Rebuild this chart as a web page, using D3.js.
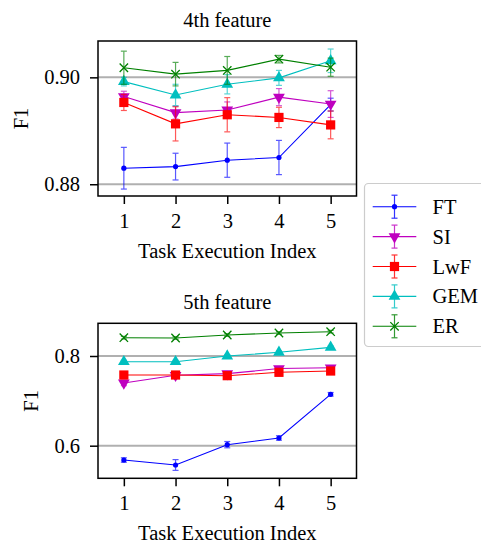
<!DOCTYPE html>
<html><head><meta charset="utf-8">
<script src="https://cdn.jsdelivr.net/npm/d3@7"></script>
<style>body{margin:0;background:#fff;} text{font-family:"Liberation Serif","Times New Roman",Times,serif;}</style>
</head><body><svg id="c" width="481" height="543"></svg>
<script>
const tasks = [1, 2, 3, 4, 5];
const seriesNames = ["FT", "SI", "LwF", "GEM", "ER"];
const panelTitles = ["4th feature", "5th feature"];
const xLabel = "Task Execution Index";
const yLabel = "F1";
const ticks4 = [0.88, 0.90];
const ticks5 = [0.6, 0.8];

// 4th feature
const f4_FT  = [0.8830, 0.8833, 0.8845, 0.8850, 0.8949];
const f4_SI  = [0.8964, 0.8934, 0.8939, 0.8963, 0.8950];
const f4_LwF = [0.8953, 0.8913, 0.8930, 0.8925, 0.8911];
const f4_GEM = [0.8992, 0.8967, 0.8987, 0.8999, 0.9031];
const f4_ER  = [0.9018, 0.9006, 0.9013, 0.9034, 0.9019];
const e4_FT  = [0.0039, 0.0025, 0.0032, 0.0032, 0.0012];
const e4_SI  = [0.0010, 0.0012, 0.0015, 0.0016, 0.0025];
const e4_LwF = [0.0015, 0.0032, 0.0032, 0.0019, 0.0026];
const e4_GEM = [0.0008, 0.0020, 0.0018, 0.0014, 0.0022];
const e4_ER  = [0.0031, 0.0022, 0.0026, 0.0007, 0.0017];

// 5th feature
const f5_FT  = [0.5681, 0.5570, 0.6023, 0.6172, 0.7146];
const f5_SI  = [0.7398, 0.7570, 0.7606, 0.7720, 0.7737];
const f5_LwF = [0.7576, 0.7576, 0.7561, 0.7636, 0.7665];
const f5_GEM = [0.7873, 0.7873, 0.8000, 0.8082, 0.8193];
const f5_ER  = [0.8408, 0.8401, 0.8468, 0.8513, 0.8542];
const e5_FT  = [0.0050, 0.0120, 0.0070, 0.0050, 0.0040];
const e5_SI  = [0.0060, 0.0030, 0.0030, 0.0030, 0.0040];
const e5_LwF = [0.0030, 0.0030, 0.0030, 0.0030, 0.0030];
const e5_GEM = [0.0030, 0.0030, 0.0030, 0.0030, 0.0030];
const e5_ER  = [0.0030, 0.0030, 0.0030, 0.0030, 0.0030];

const colors = ["#0000ff", "#bf00bf", "#ff0000", "#00bfbf", "#008000"];
const markers = ["dot", "tri_down", "square", "tri_up", "x"];

const svg = d3.select("#c");
const FS = 20.5;

function drawMarker(g, type, x, y, color) {
  if (type === "dot") {
    g.append("circle").attr("cx", x).attr("cy", y).attr("r", 2.6).attr("fill", color);
  } else if (type === "square") {
    g.append("rect").attr("x", x - 4.6).attr("y", y - 4.6).attr("width", 9.2).attr("height", 9.2).attr("fill", color);
  } else if (type === "tri_down") {
    g.append("path").attr("d", d3.symbol(d3.symbolTriangle, 60)()).attr("transform", `translate(${x},${y}) rotate(180)`).attr("fill", color);
  } else if (type === "tri_up") {
    g.append("path").attr("d", d3.symbol(d3.symbolTriangle, 60)()).attr("transform", `translate(${x},${y})`).attr("fill", color);
  } else if (type === "x") {
    const s = 4.2;
    g.append("path").attr("d", `M${x-s},${y-s}L${x+s},${y+s}M${x-s},${y+s}L${x+s},${y-s}`).attr("stroke", color).attr("stroke-width", 1.3).attr("fill", "none");
  }
}

function panel(cfg) {
  const x = d3.scaleLinear().domain([0.5, 5.5]).range([98, 356.5]);
  const y = d3.scaleLinear().domain(cfg.ydom).range([cfg.bottom, cfg.top]);
  const g = svg.append("g");
  // grid
  g.selectAll("line.grid").data(cfg.ticks).join("line")
    .attr("x1", 98).attr("x2", 356.5)
    .attr("y1", d => y(d)).attr("y2", d => y(d))
    .attr("stroke", "#b0b0b0").attr("stroke-width", 2);
  // series
  const clip = "clip" + cfg.id;
  svg.append("clipPath").attr("id", clip).append("rect")
    .attr("x", 98).attr("y", cfg.top).attr("width", 258.5).attr("height", cfg.bottom - cfg.top);
  const sg = g.append("g").attr("clip-path", `url(#${clip})`);
  cfg.series.forEach((vals, i) => {
    const errs = cfg.errs[i];
    const c = colors[i];
    const s = sg.append("g");
    const eg = s.append("g").attr("stroke", c).attr("stroke-width", 1.2).attr("opacity", 0.65);
    tasks.forEach((t, j) => {
      const xp = x(t), y1 = y(vals[j] + errs[j]), y2 = y(vals[j] - errs[j]);
      eg.append("line").attr("x1", xp).attr("x2", xp).attr("y1", y1).attr("y2", y2);
      eg.append("line").attr("x1", xp - 3).attr("x2", xp + 3).attr("y1", y1).attr("y2", y1);
      eg.append("line").attr("x1", xp - 3).attr("x2", xp + 3).attr("y1", y2).attr("y2", y2);
    });
    s.append("path").datum(tasks.map((t, j) => [t, vals[j]]))
      .attr("d", d3.line().x(d => x(d[0])).y(d => y(d[1])))
      .attr("fill", "none").attr("stroke", c).attr("stroke-width", 1.1);
    tasks.forEach((t, j) => drawMarker(s, markers[i], x(t), y(vals[j]), c));
  });
  // frame
  g.append("rect").attr("x", 98).attr("y", cfg.top).attr("width", 258.5).attr("height", cfg.bottom - cfg.top)
    .attr("fill", "none").attr("stroke", "#000").attr("stroke-width", 1.5);
  // axes
  const ax = g.append("g").attr("transform", `translate(0,${cfg.bottom})`)
    .call(d3.axisBottom(x).tickValues(tasks).tickFormat(d3.format("d")).tickSizeOuter(0).tickSize(8).tickPadding(9));
  const ay = g.append("g").attr("transform", `translate(98,0)`)
    .call(d3.axisLeft(y).tickValues(cfg.ticks).tickFormat(d3.format(cfg.fmt)).tickSizeOuter(0).tickSize(8).tickPadding(10));
  [ax, ay].forEach(a => {
    a.select(".domain").remove();
    a.selectAll("line").attr("stroke", "#000").attr("stroke-width", 1.5);
    a.selectAll("text").attr("font-size", FS).attr("fill", "#000");
  });
  // labels
  g.append("text").attr("x", 227.3).attr("y", cfg.top - 14.5).attr("text-anchor", "middle")
    .attr("font-size", FS).text(cfg.title);
  g.append("text").attr("x", 227.3).attr("y", cfg.bottom + 62).attr("text-anchor", "middle")
    .attr("font-size", FS).text(xLabel);
  g.append("text").attr("transform", `translate(${cfg.ylx},${(cfg.top + cfg.bottom) / 2}) rotate(-90)`)
    .attr("text-anchor", "middle").attr("font-size", FS).text(yLabel);
}

panel({id: 4, title: panelTitles[0], top: 41, bottom: 196, ydom: [0.8778, 0.9068], ticks: ticks4, fmt: ".2f",
  series: [f4_FT, f4_SI, f4_LwF, f4_GEM, f4_ER], errs: [e4_FT, e4_SI, e4_LwF, e4_GEM, e4_ER], ylx: 28});
panel({id: 5, title: panelTitles[1], top: 323.3, bottom: 478.3, ydom: [0.5273, 0.8729], ticks: ticks5, fmt: ".1f",
  series: [f5_FT, f5_SI, f5_LwF, f5_GEM, f5_ER], errs: [e5_FT, e5_SI, e5_LwF, e5_GEM, e5_ER], ylx: 38});

// legend
const lg = svg.append("g");
lg.append("rect").attr("x", 364.5).attr("y", 183.5).attr("width", 130).attr("height", 163).attr("rx", 4)
  .attr("fill", "#fff").attr("stroke", "#cccccc").attr("stroke-width", 1.2);
seriesNames.forEach((n, i) => {
  const cy = 206.7 + i * 29.9, c = colors[i];
  const eg = lg.append("g").attr("stroke", c).attr("stroke-width", 1.2).attr("opacity", 0.8);
  eg.append("line").attr("x1", 394.5).attr("x2", 394.5).attr("y1", cy - 11.5).attr("y2", cy + 11.5);
  eg.append("line").attr("x1", 391.5).attr("x2", 397.5).attr("y1", cy - 11.5).attr("y2", cy - 11.5);
  eg.append("line").attr("x1", 391.5).attr("x2", 397.5).attr("y1", cy + 11.5).attr("y2", cy + 11.5);
  lg.append("line").attr("x1", 372.7).attr("x2", 416.3).attr("y1", cy).attr("y2", cy).attr("stroke", c).attr("stroke-width", 1.1);
  drawMarker(lg, markers[i], 394.5, cy, c);
  lg.append("text").attr("x", 432.5).attr("y", cy + 7).attr("font-size", FS).text(n);
});
</script></body></html>
